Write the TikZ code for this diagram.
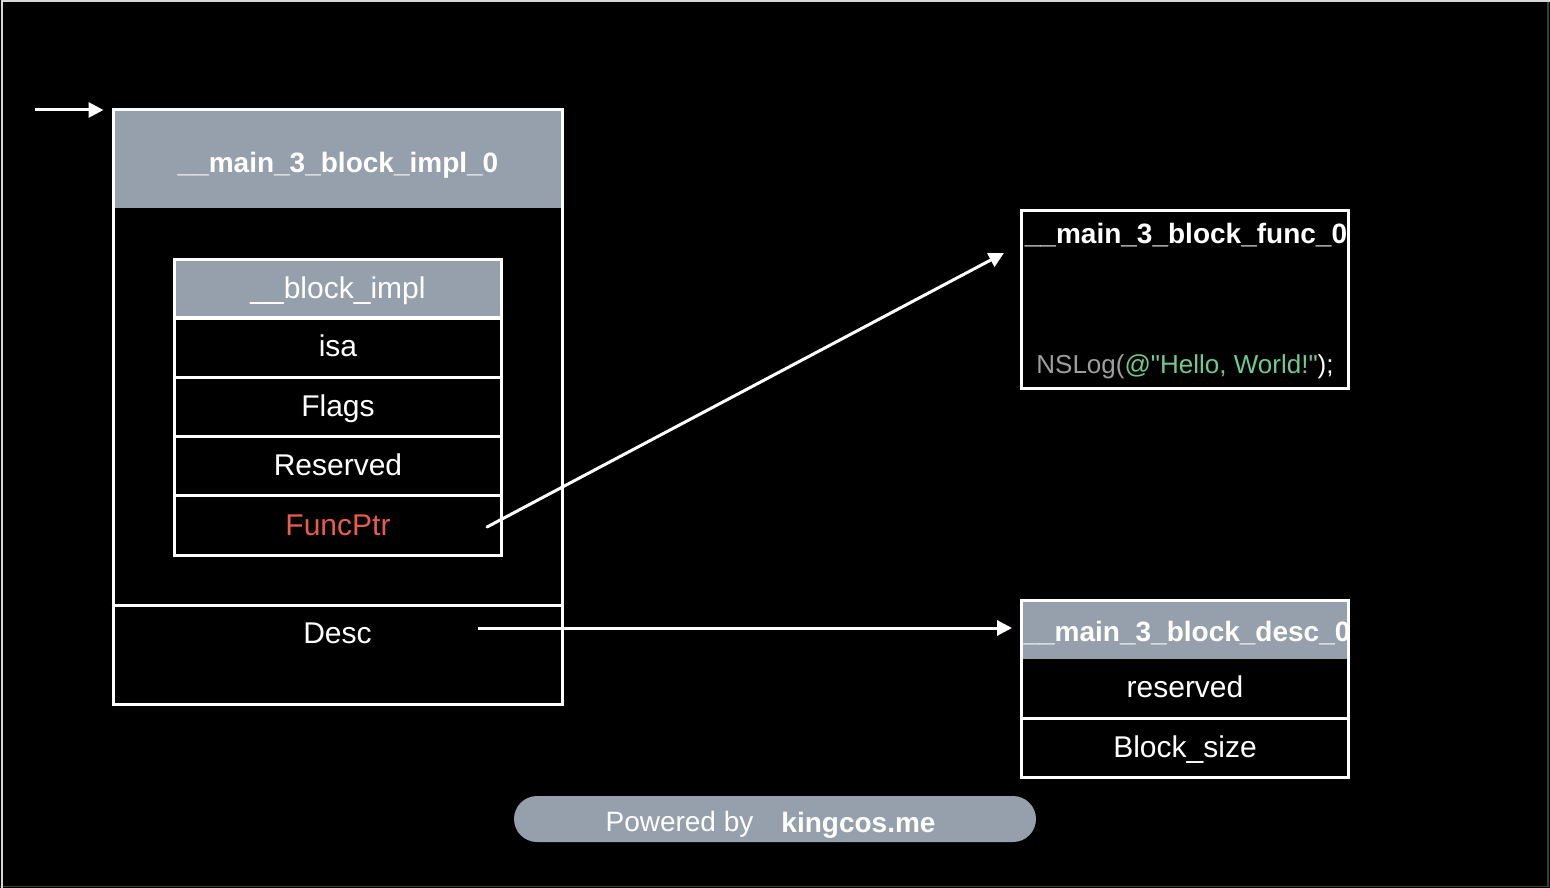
\documentclass[tikz,border=0pt]{standalone}
\usepackage{fontspec}
\setmainfont{Liberation Sans}[Ligatures=TeXOff]
\usetikzlibrary{arrows.meta}
\definecolor{hdr}{RGB}{150,160,172}
\definecolor{fpred}{RGB}{232,92,76}
\definecolor{strgreen}{RGB}{112,202,142}
\definecolor{nsgray}{RGB}{158,158,158}
\definecolor{framelight}{RGB}{215,215,215}
\definecolor{framedark}{RGB}{60,60,60}
\begin{document}
\begin{tikzpicture}[x=1pt,y=-1pt,
  txt/.style={text=white,inner sep=0pt,text height=21.5pt,text depth=0pt},
  big/.style={txt,font=\fontsize{30}{36}\selectfont},
  ttl/.style={txt,font=\fontsize{28}{34}\selectfont\bfseries,text height=20pt},
  small/.style={txt,font=\fontsize{26}{32}\selectfont,text height=18.6pt},
  boxline/.style={draw=white,line width=3pt},
  cellbox/.style={boxline,big,minimum width=327pt,minimum height=59.25pt},
  hdrfill/.style={fill=hdr,draw=none},
  arr/.style={draw=white,line width=3pt,-{Triangle[length=15pt,width=15pt]}}
]
% background and frame
\fill[black] (0,0) rectangle (1550,888);
\useasboundingbox (0,0) rectangle (1550,888);
\draw[framedark,line width=1.5pt] (1548,0) -- (1548,886.5) -- (0,886.5);
\draw[framelight,line width=2pt] (1.5,888) -- (1.5,1.5) -- (1550,1.5);

% ---------- outer block impl ----------
\fill[hdrfill] (113,109.5) rectangle (562.5,208);
\node[ttl] (impltitle) at (338,162.5) {\_\_main\_3\_block\_impl\_0};
\node[boxline,minimum width=449.5pt,minimum height=595pt,inner sep=0pt] (impl) at (337.75,407) {};
\draw[boxline] (impl.west |- 0,605) coordinate (divl) -- (impl.east |- 0,605) coordinate (divr);
\node[big] (desc) at (337.5,633) {Desc};

% ---------- inner __block_impl ----------
\node[cellbox,fill=hdr] (bimpl) at (338,289) {\raisebox{1pt}{\_\_block\_impl}};
\node[cellbox] (isa) at (338,347.5) {\raisebox{1.5pt}{isa}};
\node[cellbox] (flags) at (338,406.75) {\raisebox{1pt}{Flags}};
\node[cellbox] (reserved) at (338,466) {\raisebox{1pt}{Reserved}};
\node[cellbox,text=fpred] (fp) at (338,525.5) {\raisebox{1pt}{FuncPtr}};

% ---------- func box ----------
\node[boxline,minimum width=327pt,minimum height=178pt,inner sep=0pt] (func) at (1185,299.5) {};
\node[ttl] (functitle) at (1186,233.5) {\_\_main\_3\_block\_func\_0};
\node[small] (nslog) at (1185,364) {\textcolor{nsgray}{NSLog(}\textcolor{strgreen}{@"Hello, World!"}\textcolor{white}{);}};

% ---------- desc box ----------
\fill[hdrfill] (1021.5,600.5) rectangle (1348.5,659);
\begin{scope}
  \clip (1023,602) rectangle (1347,659);
  \node[ttl] (desctitle) at (1187,631) {\_\_main\_3\_block\_desc\_0};
\end{scope}
\node[boxline,minimum width=327pt,minimum height=177pt,inner sep=0pt] (descbox) at (1185,689) {};
\draw[boxline] (descbox.west |- 0,718) -- (descbox.east |- 0,718);
\node[big] (rsv) at (1185,687) {reserved};
\node[big] (bsize) at (1185,746.5) {Block\_size};

% ---------- connectors ----------
\coordinate (entry) at (35,110);
\draw[arr] (entry) -- ([xshift=-8pt]impl.west |- entry);
\coordinate (fpstart) at (487,527);
\coordinate (fpend) at (1004,253);
\draw[arr,line cap=round] (fpstart) -- (fpend);
\coordinate (descstart) at (478,628);
\draw[arr] (descstart) -- ([xshift=-8pt]descbox.west |- descstart);

% ---------- footer ----------
\node[fill=hdr,rounded corners=23pt,minimum width=522pt,minimum height=46pt,inner sep=0pt] (footer) at (775,819) {};
\node[txt,font=\fontsize{28}{34}\selectfont,text height=20pt] (pow) at (679.5,821) {Powered by};
\node[ttl] (king) at (858.5,822) {kingcos.me};
\end{tikzpicture}
\end{document}
